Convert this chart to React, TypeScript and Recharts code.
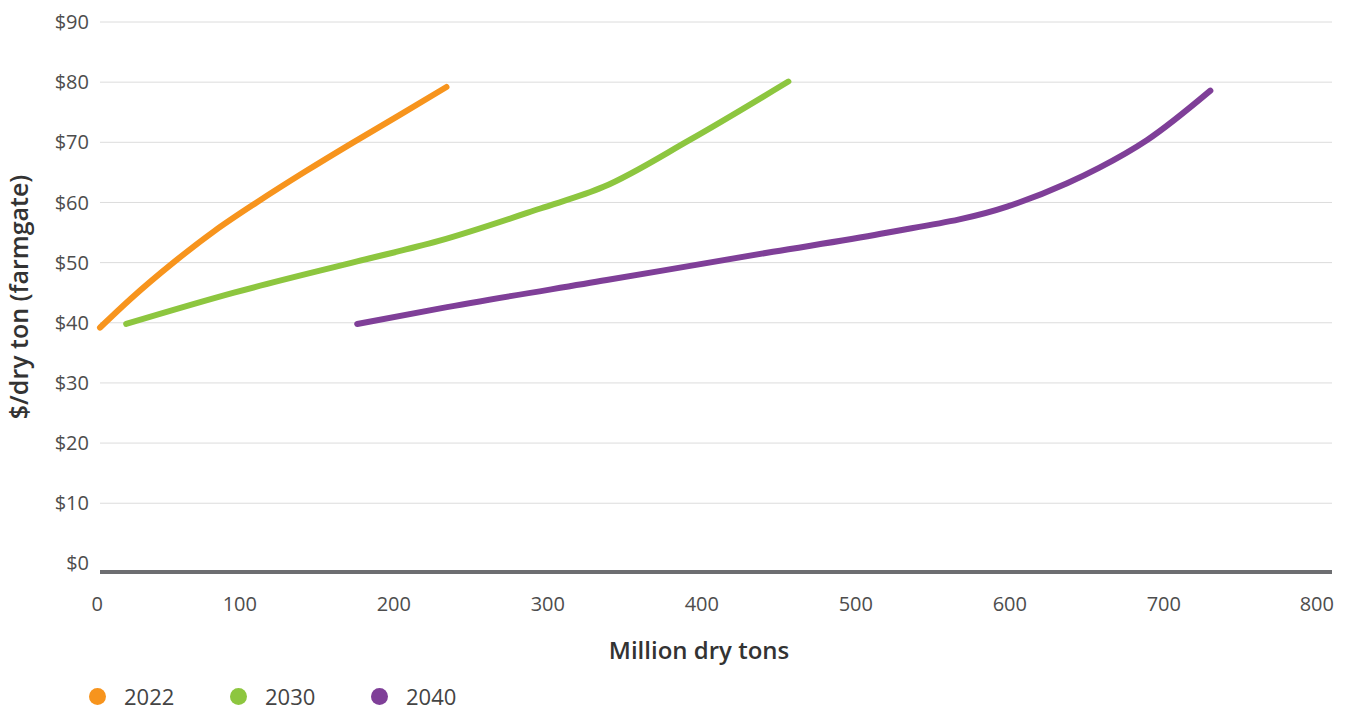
import { LineChart, Line, XAxis, YAxis, CartesianGrid, Legend } from 'recharts';

// million dry tons (x) and $/dry ton farmgate price (y)
const tons2022 = [0, 20, 47.6, 74, 101.7, 133, 164.5, 195, 225];
const price2022 = [39.2, 44, 50, 55.2, 60, 65.1, 70, 74.6, 79.2];

const tons2030 = [17, 87, 167, 220, 286, 327, 383, 447];
const price2030 = [39.8, 45, 50.2, 53.6, 59, 62.6, 70.4, 80.1];

const tons2040 = [167, 221, 329, 437, 507, 589, 628, 649, 680, 721];
const price2040 = [39.8, 42.4, 47.1, 51.8, 54.8, 59.3, 63.2, 65.8, 70.4, 78.6];

const xTicks = [0, 100, 200, 300, 400, 500, 600, 700, 800];
const yTicks = [0, 10, 20, 30, 40, 50, 60, 70, 80, 90];
const gridValues = [10, 20, 30, 40, 50, 60, 70, 80, 90];

const toPoints = (xs: number[], ys: number[]) => xs.map((x, i) => ({ x, y: ys[i] }));

const series = [
    { name: '2022', color: '#f7941d', data: toPoints(tons2022, price2022) },
    { name: '2030', color: '#8dc63f', data: toPoints(tons2030, price2030) },
    { name: '2040', color: '#7f3f98', data: toPoints(tons2040, price2040) },
];

const FONT = '"Open Sans", sans-serif';

function LegendContent() {
    return (
        <div style={{ display: 'flex', height: 28, alignItems: 'center', fontFamily: FONT }}>
            {series.map(s => (
                <div key={s.name} style={{ display: 'flex', alignItems: 'center', width: 141 }}>
                    <span style={{ width: 17, height: 17, borderRadius: '50%', background: s.color, display: 'inline-block', marginRight: 18 }} />
                    <span style={{ fontSize: 22, color: '#444' }}>{s.name}</span>
                </div>
            ))}
        </div>
    );
}

export default function App() {
    return (
        <div style={{ position: 'absolute', left: 0, top: 0, background: '#fff' }}>
            <LineChart width={1346} height={710} margin={{ top: 22, right: 14, bottom: 0, left: 0 }}>
                <CartesianGrid vertical={false} stroke="#dcdcdc" strokeWidth={1} horizontalValues={gridValues} />
                <XAxis
                    type="number"
                    dataKey="x"
                    domain={[0, 800]}
                    ticks={xTicks}
                    tickLine={false}
                    axisLine={{ stroke: '#6d6e71', strokeWidth: 4 }}
                    tick={{ fill: '#4d4d4d', fontSize: 20, fontFamily: FONT, textAnchor: 'end', dx: 3 }}
                    tickMargin={19}
                    height={110}
                    label={{ value: 'Million dry tons', position: 'insideBottom', offset: 23, dx: -17, style: { fill: '#333', fontSize: 24, fontWeight: 600, fontFamily: FONT } }}
                />
                <YAxis
                    type="number"
                    domain={[-1.43, 90]}
                    ticks={yTicks}
                    tickFormatter={(v: number) => `$${v}`}
                    tickLine={false}
                    axisLine={false}
                    tickMargin={5}
                    width={100}
                    tick={{ fill: '#4d4d4d', fontSize: 20, fontFamily: FONT }}
                    label={{ value: '$/dry ton (farmgate)', angle: -90, position: 'insideLeft', offset: 19, style: { textAnchor: 'middle', fill: '#333', fontSize: 25, fontWeight: 600, fontFamily: FONT } }}
                />
                <Legend verticalAlign="bottom" align="left" content={<LegendContent />} wrapperStyle={{ left: 89, bottom: 0, height: 28 }} />
                {series.map(s => (
                    <Line
                        key={s.name}
                        data={s.data}
                        dataKey="y"
                        name={s.name}
                        type="monotone"
                        stroke={s.color}
                        strokeWidth={6}
                        strokeLinecap="round"
                        dot={false}
                        activeDot={false}
                        isAnimationActive={false}
                    />
                ))}
            </LineChart>
        </div>
    );
}
